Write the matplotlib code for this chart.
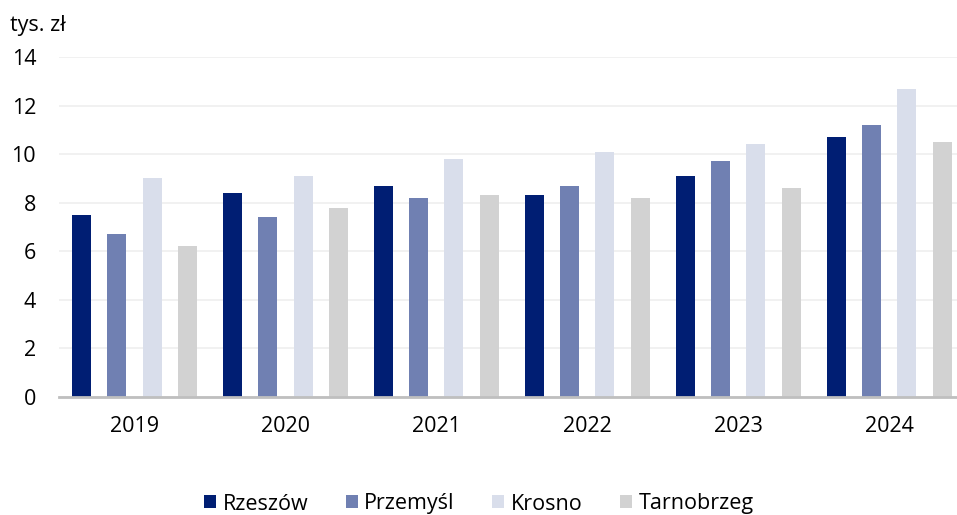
import matplotlib
matplotlib.use("Agg")
import matplotlib.pyplot as plt
import numpy as np
from matplotlib.patches import Patch

years = ["2019", "2020", "2021", "2022", "2023", "2024"]
series_names = ["Rzeszów", "Przemyśl", "Krosno", "Tarnobrzeg"]
rzeszow = [7.5, 8.4, 8.7, 8.3, 9.1, 10.7]
przemysl = [6.7, 7.4, 8.2, 8.7, 9.7, 11.2]
krosno = [9.0, 9.1, 9.8, 10.1, 10.4, 12.7]
tarnobrzeg = [6.2, 7.8, 8.3, 8.2, 8.6, 10.5]
yticks = [0, 2, 4, 6, 8, 10, 12, 14]
unit_label = "tys. zł"

colors = ["#001E73", "#7080B2", "#D9DEEB", "#D2D2D2"]
data = [rzeszow, przemysl, krosno, tarnobrzeg]

plt.rcParams['font.family'] = ['Open Sans', 'DejaVu Sans']
FS = 15.5

fig = plt.figure(figsize=(9.57, 5.15), dpi=100)
W, H = 957, 515
left, right, top, bottom = 59, 964.5, 57, 397
ax = fig.add_axes([left / W, 1 - bottom / H, (right - left) / W, (bottom - top) / H])

x = np.arange(len(years))
bw = 0.126
step = 0.234
offsets = (np.arange(4) - 1.5) * step
for i in range(4):
    ax.bar(x + offsets[i], data[i], width=bw, color=colors[i], zorder=3)

ax.set_xlim(-0.5, len(years) - 0.5)
ax.set_ylim(0, 14)
ax.set_yticks(yticks)
ax.set_yticklabels([str(v) for v in yticks])
ax.set_xticks(x)
ax.set_xticklabels(years)
ax.tick_params(axis='both', length=0, labelsize=FS, colors="#000000")
ax.tick_params(axis='y', pad=16.5)
ax.tick_params(axis='x', pad=14)
ax.grid(axis='y', color="#EFEFEF", linewidth=1.2, zorder=0)
for s in ["top", "right", "left"]:
    ax.spines[s].set_visible(False)
ax.spines["bottom"].set_color("#BFBFBF")
ax.spines["bottom"].set_linewidth(2)
ax.spines["bottom"].set_zorder(4)

fig.text(10 / W, 1 - 25 / H, unit_label, fontsize=FS, ha='left', va='center')

handles = [Patch(facecolor=c, edgecolor='none') for c in colors]
fig.legend(handles, series_names, loc='center', bbox_to_anchor=(479 / W, 1 - 504 / H),
           ncol=4, frameon=False, fontsize=FS, handlelength=0.55, handleheight=0.55,
           handletextpad=0.3, columnspacing=1.75)

fig.savefig("out.png", dpi=100)
